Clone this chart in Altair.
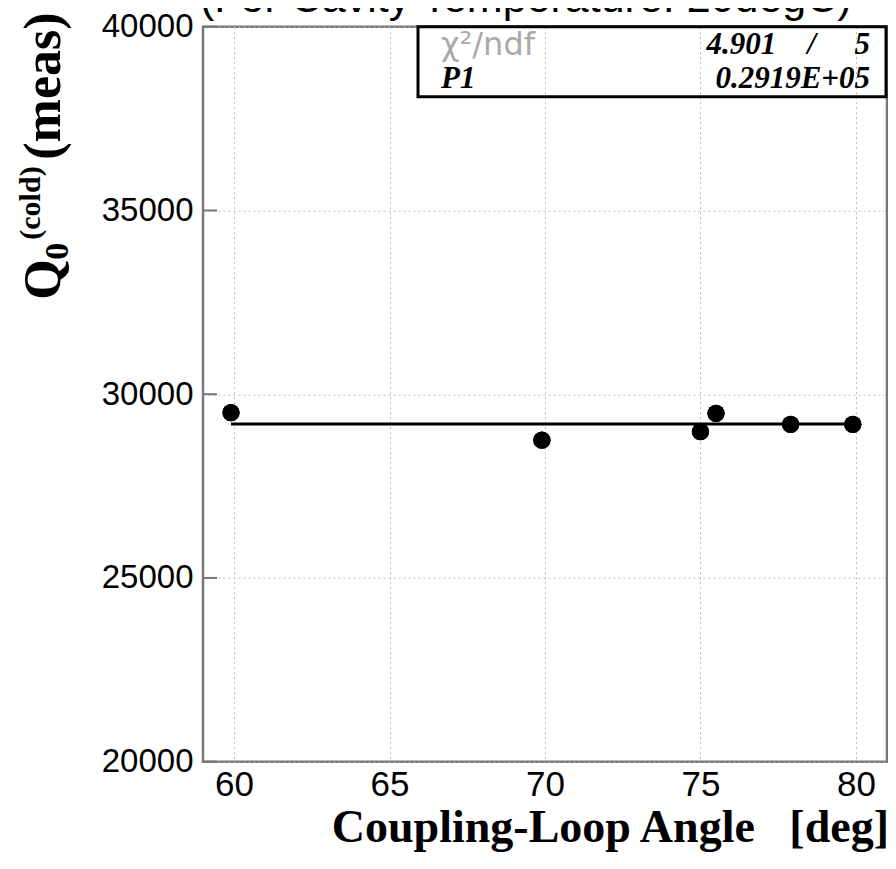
import altair as alt
import pandas as pd

# ---- data ----
angle = [59.9, 69.9, 75.0, 75.5, 77.9, 79.9]
q0 = [29500, 28750, 28980, 29480, 29180, 29180]
fit_angle = [59.9, 80.0]
fit_q0 = [29190, 29190]
x_ticks = [60, 65, 70, 75, 80]
y_ticks = [20000, 25000, 30000, 35000, 40000]
title_text = "(For Cavity Temperature: 20degC)"
x_title = "Coupling-Loop Angle\u00a0\u00a0\u00a0[deg]"
stats_labels = ["χ²/ndf", "P1"]
stats_values = ["4.901\u00a0\u00a0\u00a0\u00a0/\u00a0\u00a0\u00a0\u00a0\u00a05", "0.2919E+05"]

W, H = 684, 735
xs = alt.Scale(domain=[59, 81], nice=False, zero=False)
ys = alt.Scale(domain=[20000, 40000], nice=False, zero=False)

pts = pd.DataFrame({"angle": angle, "q0": q0})
fit = pd.DataFrame({"angle": fit_angle, "q0": fit_q0})
yt = pd.DataFrame({"v": y_ticks})

xaxis = alt.Axis(values=x_ticks, labelPadding=6, grid=True, labelFontSize=35)
yaxis = alt.Axis(values=y_ticks, labelPadding=10, grid=True, format="d",
                 labelFontSize=33)

points = alt.Chart(pts).mark_circle(size=300, color="black", opacity=1).encode(
    x=alt.X("angle:Q", scale=xs, axis=xaxis, title=None),
    y=alt.Y("q0:Q", scale=ys, axis=yaxis, title=None),
)

line = alt.Chart(fit).mark_line(color="black", strokeWidth=3).encode(
    x=alt.X("angle:Q", scale=xs, axis=xaxis, title=None),
    y=alt.Y("q0:Q", scale=ys, axis=yaxis, title=None),
)

inner_ticks = alt.Chart(yt).mark_rule(color="#777", strokeWidth=2).encode(
    y=alt.Y("v:Q", scale=ys, axis=yaxis, title=None),
    x=alt.value(0),
    x2=alt.value(14),
)

one = pd.DataFrame({"k": [0]})

def txt(text, x, y, **kw):
    d = pd.DataFrame({"t": [text]})
    return alt.Chart(d).mark_text(**kw).encode(
        text="t:N", x=alt.value(x), y=alt.value(y))

title = txt(title_text, -3, -15, font="Liberation Sans", fontSize=43,
            align="left", baseline="alphabetic", color="black")

xt = txt(x_title, 686, 815, font="Liberation Serif", fontWeight="bold",
         fontSize=46, align="right", baseline="alphabetic", color="black")

serif_b = dict(font="Liberation Serif", fontWeight="bold", angle=270,
               align="left", baseline="alphabetic", color="black")
yq = txt("Q", -143, 273, fontSize=52, **serif_b)
y0 = txt("0", -135, 233, fontSize=34, **serif_b)
ycold = txt("(cold)", -163, 213, fontSize=30, **serif_b)
ymeas = txt("(meas)", -143, 133, fontSize=52, **serif_b)

box = alt.Chart(one).mark_rect(fill="white", fillOpacity=0, stroke="black",
                               strokeWidth=3).encode(
    x=alt.value(215), x2=alt.value(683), y=alt.value(0), y2=alt.value(70))

s1 = txt(stats_labels[0], 238, 18, font="DejaVu Sans", fontSize=32,
         align="left", baseline="middle", color="#aaa")
s2 = txt(stats_labels[1], 238, 52, font="Liberation Serif", fontWeight="bold",
         fontStyle="italic", fontSize=31, align="left", baseline="middle",
         color="black")
v1 = txt(stats_values[0], 667, 18, font="Liberation Serif", fontWeight="bold",
         fontStyle="italic", fontSize=31, align="right", baseline="middle",
         color="black")
v2 = txt(stats_values[1], 667, 52, font="Liberation Serif", fontWeight="bold",
         fontStyle="italic", fontSize=31, align="right", baseline="middle",
         color="black")

chart = alt.layer(
    points, inner_ticks, line, points, box, s1, s2, v1, v2,
    title, xt, yq, y0, ycold, ymeas
).properties(
    width=W, height=H,
    autosize=alt.AutoSizeParams(type="none"),
    padding={"left": 195, "top": 18.7, "right": 1, "bottom": 91.3},
).configure_view(
    stroke="#777", strokeWidth=2.5
).configure_axis(
    domain=False, ticks=False,
    gridColor="#bbb", gridDash=[2, 3], gridWidth=1,
    labelFont="Liberation Sans", labelColor="black",
)

chart.save("out.html", embed_options={"renderer": "svg", "actions": False})
